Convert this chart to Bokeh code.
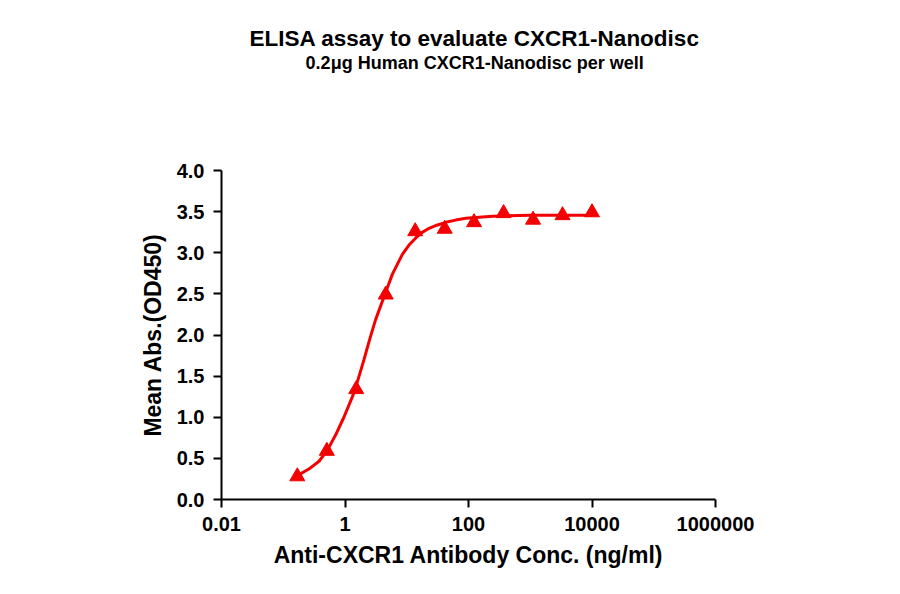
from bokeh.plotting import figure
from bokeh.models import ColumnDataSource, Range1d, FixedTicker, NumeralTickFormatter
from bokeh.layouts import column
from bokeh.core.properties import value
from bokeh.embed import file_html
from bokeh.resources import INLINE


# measured points (3-fold dilution series, ng/ml)
conc = [0.169, 0.508, 1.52, 4.57, 13.7, 41.2, 123, 370, 1111, 3333, 10000]
od450 = [0.28, 0.59, 1.34, 2.49, 3.26, 3.29, 3.37, 3.48, 3.40, 3.455, 3.49]

# fitted curve
curve_x = [0.169, 0.26, 0.38, 0.52, 0.71, 0.96, 1.32, 1.585, 2.03, 2.45, 2.78,
           3.14, 4.56, 5.86, 8.49, 10.8, 14.0, 17.5, 23.0, 30.6, 42.9, 62.2,
           90.6, 245, 1000, 10000]
curve_y = [0.29, 0.37, 0.465, 0.60, 0.79, 1.00, 1.25, 1.43, 1.70, 1.92, 2.06,
           2.19, 2.52, 2.74, 2.98, 3.09, 3.18, 3.245, 3.297, 3.335, 3.37, 3.397,
           3.42, 3.445, 3.455, 3.457]

x_ticks = [0.01, 1, 100, 10000, 1000000]
x_tick_labels = ["0.01", "1", "100", "10000", "1000000"]
y_ticks = [0, 0.5, 1.0, 1.5, 2.0, 2.5, 3.0, 3.5, 4.0]

title = "ELISA assay to evaluate CXCR1-Nanodisc"
subtitle = "0.2\u03bcg Human CXCR1-Nanodisc per well"
x_title = "Anti-CXCR1 Antibody Conc. (ng/ml)"
y_title = "Mean Abs.(OD450)"

FONT = "Liberation Sans"
RED = "#f50000"
W = 884
TOP_H = 150

# --- title strip ---
head = figure(width=W, height=TOP_H, x_range=Range1d(0, W), y_range=Range1d(0, TOP_H),
              output_backend="svg", toolbar_location=None, min_border=0)
head.axis.visible = False
head.grid.visible = False
head.outline_line_color = None
head.text(x=[453], y=[TOP_H - 38], text=[title], text_font=value(FONT),
          text_font_style="bold", text_font_size="22.5px", text_align="center",
          text_baseline="middle", text_color="black")
head.text(x=[453], y=[TOP_H - 62], text=[subtitle], text_font=value(FONT),
          text_font_style="bold", text_font_size="18px", text_align="center",
          text_baseline="middle", text_color="black")

# --- main chart ---
p = figure(
    width=W,
    height=428,
    x_axis_type="log",
    x_range=Range1d(0.01, 1000000),
    y_range=Range1d(0, 4),
    output_backend="svg",
    toolbar_location=None,
    min_border_left=221,
    min_border_right=169,
    min_border_top=20,
    min_border_bottom=79,
)
p.outline_line_color = None
p.grid.visible = False

curve = ColumnDataSource({"x": curve_x, "y": curve_y})
pts = ColumnDataSource({"x": conc, "y": od450})
p.line(x="x", y="y", source=curve, line_color=RED, line_width=3)
p.scatter(x="x", y="y", source=pts, marker="triangle", size=15,
          fill_color=RED, line_color=RED)

p.xaxis.ticker = FixedTicker(ticks=x_ticks)
p.xaxis.major_label_overrides = dict(zip(x_ticks, x_tick_labels))
p.yaxis.ticker = FixedTicker(ticks=y_ticks)
p.yaxis.formatter = NumeralTickFormatter(format="0.0")

for ax in (p.xaxis, p.yaxis):
    ax.axis_line_width = 2
    ax.axis_line_color = "black"
    ax.major_tick_line_width = 2
    ax.major_tick_line_color = "black"
    ax.major_tick_in = 0
    ax.major_tick_out = 8
    ax.minor_tick_line_color = None
    ax.major_label_text_font = FONT
    ax.major_label_text_font_style = "bold"
    ax.major_label_text_font_size = "20px"
    ax.major_label_text_color = "black"
    ax.major_label_standoff = 9
    ax.axis_label_text_font = FONT
    ax.axis_label_text_font_style = "bold"
    ax.axis_label_text_font_size = "23px"
    ax.axis_label_text_color = "black"

p.xaxis.axis_label = x_title
p.xaxis.axis_label_standoff = 8
p.yaxis.axis_label = y_title
p.yaxis.axis_label_standoff = 8

layout = column(head, p, spacing=0)
open("out.html", "w").write(file_html(layout, INLINE))
